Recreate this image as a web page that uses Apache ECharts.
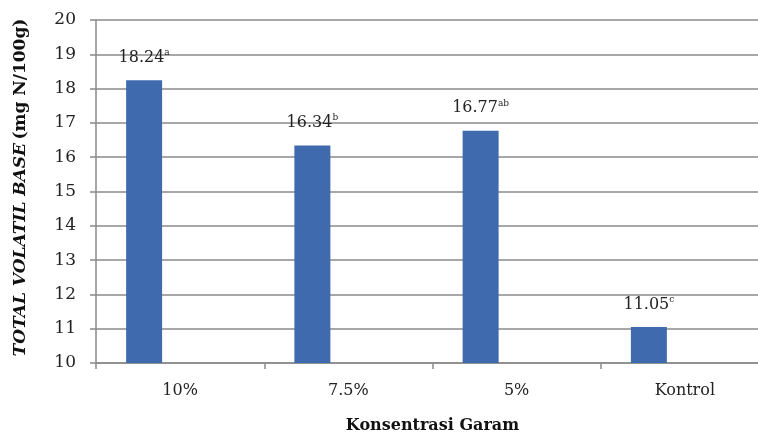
<!DOCTYPE html>
<html>
<head>
<meta charset="utf-8">
<script src="https://cdn.jsdelivr.net/npm/echarts@6/dist/echarts.min.js"></script>
<style>
  html, body { margin: 0; padding: 0; background: #fff; }
  #chart { width: 758px; height: 434px; }
</style>
</head>
<body>
<div id="chart"></div>
<script>
// data
var categories = ['10%', '7.5%', '5%', 'Kontrol'];
var values = [18.24, 16.34, 16.77, 11.05];
var letters = ['a', 'b', 'ab', 'c'];
var yTicks = [10, 20, 1]; // min, max, interval

var font = 'DejaVu Serif';

var myChart = echarts.init(document.getElementById('chart'));

var option = {
    animation: false,
    backgroundColor: '#fff',
    // plot runs past the right edge, as in the original crop
    grid: { left: 96, width: 673, top: 20, bottom: 71, outerBoundsMode: 'none' },
    xAxis: {
        type: 'category',
        data: categories,
        name: 'Konsentrasi Garam',
        nameLocation: 'middle',
        nameGap: 55,
        nameTextStyle: { fontFamily: font, fontSize: 16, fontWeight: 'bold', color: '#111' },
        axisLine: { lineStyle: { color: '#8a8a8a', width: 1.5 } },
        axisTick: { show: true, length: 6, lineStyle: { color: '#8a8a8a', width: 1.5 } },
        axisLabel: { fontFamily: font, fontSize: 16, color: '#222', margin: 20 }
    },
    yAxis: {
        type: 'value',
        min: yTicks[0],
        max: yTicks[1],
        interval: yTicks[2],
        name: '{i|TOTAL VOLATIL BASE} {n|(mg N/100g)}',
        nameLocation: 'middle',
        nameGap: 67,
        nameRotate: 90,
        nameTextStyle: {
            padding: [0, 0, 0, 8],
            rich: {
                i: { fontFamily: font, fontSize: 17, fontWeight: 'bold', fontStyle: 'italic', color: '#111' },
                n: { fontFamily: font, fontSize: 17, fontWeight: 'bold', color: '#111' }
            }
        },
        axisLine: { show: true, lineStyle: { color: '#8a8a8a', width: 1.5 } },
        axisTick: { show: true, length: 6, lineStyle: { color: '#8a8a8a', width: 1.5 } },
        axisLabel: { fontFamily: font, fontSize: 17, color: '#222', margin: 20 },
        splitLine: { lineStyle: { color: '#8a8a8a', width: 1.5 } }
    },
    series: [
        {
            type: 'bar',
            data: values,
            barWidth: 36,
            barGap: '100%',
            itemStyle: { color: '#3F6AAE' },
            label: {
                show: true,
                position: 'top',
                distance: 13,
                formatter: function (p) {
                    return '{v|' + p.value.toFixed(2) + '}{s|' + letters[p.dataIndex] + '}';
                },
                rich: {
                    v: { fontFamily: font, fontSize: 16, color: '#222' },
                    s: { fontFamily: font, fontSize: 9, color: '#222', padding: [0, 0, 10, 0] }
                }
            }
        },
        {
            type: 'bar',
            data: [null, null, null, null],
            barWidth: 36
        }
    ]
};

option && myChart.setOption(option);
</script>
</body>
</html>
